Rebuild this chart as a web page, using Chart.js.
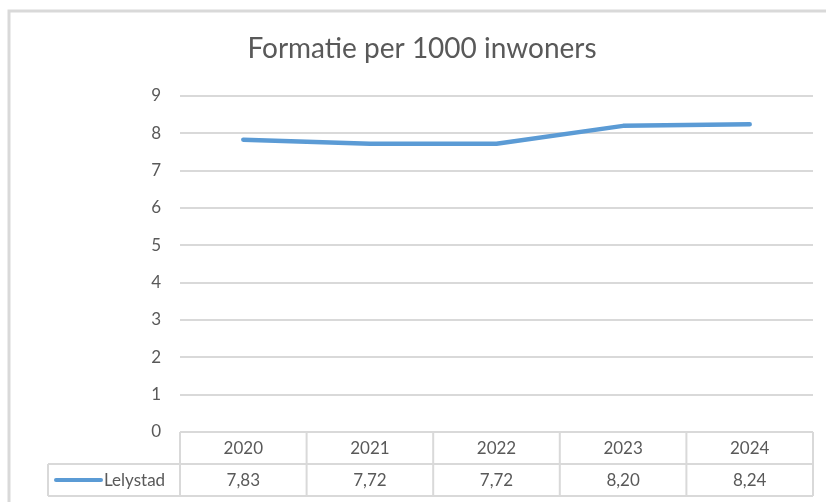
<!DOCTYPE html>
<html>
<head>
<meta charset="utf-8">
<script src="https://cdn.jsdelivr.net/npm/chart.js@4.4.1/dist/chart.umd.min.js"></script>
<style>
html,body{margin:0;padding:0;background:#fff;}
#wrap{width:826px;height:502px;position:relative;}
</style>
</head>
<body>
<div id="wrap"><canvas id="c" width="826" height="502"></canvas></div>
<script>
const titleText = "Formatie per 1000 inwoners";
const categories = ["2020", "2021", "2022", "2023", "2024"];
const seriesName = "Lelystad";
const values = [7.83, 7.72, 7.72, 8.20, 8.24];
const yTicks = [0, 1, 2, 3, 4, 5, 6, 7, 8, 9];

const FONT = "Lato, 'Open Sans', sans-serif";
const TXT = "#595959";
const GRID = "#d9d9d9";
const BLUE = "#5b9bd5";

const fmt = v => v.toFixed(2).replace('.', ',');

const tablePlugin = {
  id: 'tablePlugin',
  afterDraw(chart) {
    const ctx = chart.ctx;
    const ca = chart.chartArea;
    const xs = chart.scales.x;
    ctx.save();
    // outer frame
    ctx.strokeStyle = GRID;
    ctx.lineWidth = 3;
    ctx.beginPath();
    ctx.moveTo(9, 520);
    ctx.lineTo(9, 11);
    ctx.lineTo(830, 11);
    ctx.stroke();
    // title
    ctx.fillStyle = TXT;
    ctx.font = "28px " + FONT;
    ctx.textAlign = "center";
    ctx.textBaseline = "middle";
    ctx.fillText(titleText, 422, 49);
    // table
    const n = categories.length;
    const step = (ca.right - ca.left) / n;
    const top = ca.bottom, mid = top + 32, bot = mid + 32;
    const legLeft = 48;
    ctx.strokeStyle = GRID;
    ctx.lineWidth = 2;
    ctx.beginPath();
    ctx.moveTo(ca.left, top); ctx.lineTo(ca.right, top);
    ctx.moveTo(legLeft, mid); ctx.lineTo(ca.right, mid);
    ctx.moveTo(legLeft, bot); ctx.lineTo(ca.right, bot);
    ctx.moveTo(legLeft, mid); ctx.lineTo(legLeft, bot);
    for (let i = 0; i <= n; i++) {
      const x = ca.left + i * step;
      ctx.moveTo(x, top); ctx.lineTo(x, bot);
    }
    ctx.stroke();
    ctx.fillStyle = TXT;
    ctx.font = "17px " + FONT;
    ctx.textAlign = "center";
    for (let i = 0; i < n; i++) {
      const cx = xs.getPixelForValue(i);
      ctx.fillText(categories[i], cx, (top + mid) / 2 + 1);
      ctx.fillText(fmt(values[i]), cx, (mid + bot) / 2 + 1);
    }
    // legend key
    ctx.strokeStyle = BLUE;
    ctx.lineWidth = 4;
    ctx.lineCap = "round";
    ctx.beginPath();
    ctx.moveTo(56, (mid + bot) / 2);
    ctx.lineTo(101, (mid + bot) / 2);
    ctx.stroke();
    ctx.textAlign = "left";
    ctx.fillText(seriesName, 104, (mid + bot) / 2 + 1);
    ctx.restore();
  }
};

new Chart(document.getElementById('c'), {
  type: 'line',
  data: {
    labels: categories,
    datasets: [{
      label: seriesName,
      data: values,
      borderColor: BLUE,
      borderWidth: 4.5,
      borderCapStyle: 'round',
      borderJoinStyle: 'round',
      pointRadius: 0,
      tension: 0,
      fill: false
    }]
  },
  options: {
    responsive: false,
    animation: false,
    devicePixelRatio: 1,
    layout: { padding: { left: 0, right: 13, top: 96, bottom: 70 } },
    plugins: { legend: { display: false }, title: { display: false }, tooltip: { enabled: false } },
    scales: {
      x: {
        display: false,
        offset: true
      },
      y: {
        min: 0, max: 9,
        afterFit(scale) { scale.width = 180; },
        afterBuildTicks(scale) { scale.ticks = yTicks.map(v => ({ value: v })); },
        border: { display: false },
        grid: { color: GRID, lineWidth: 2, drawTicks: false },
        ticks: { color: TXT, padding: 19, font: { family: FONT, size: 17 } }
      }
    }
  },
  plugins: [tablePlugin]
});
</script>
</body>
</html>
